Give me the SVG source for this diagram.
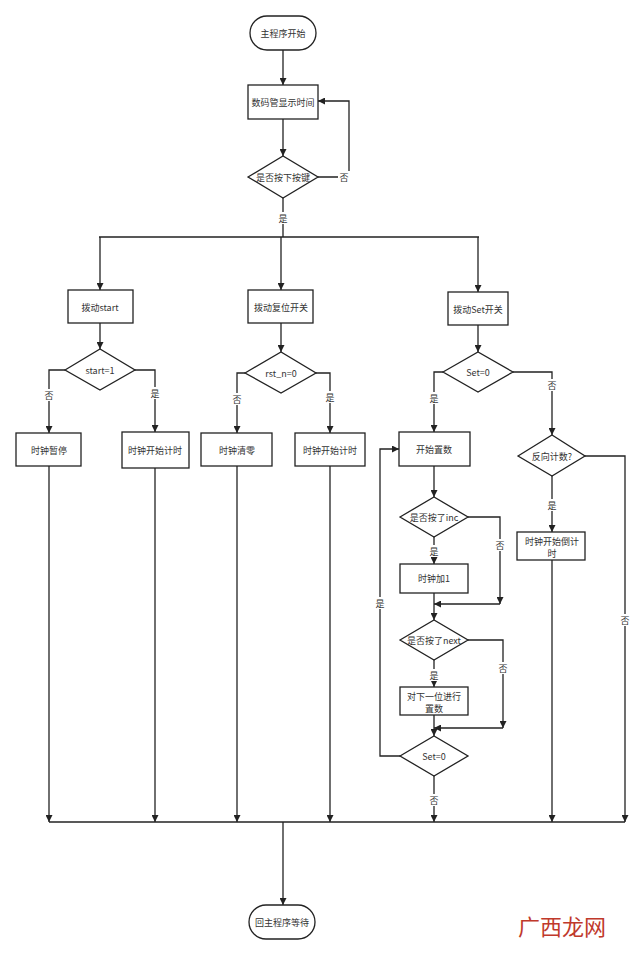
<svg xmlns="http://www.w3.org/2000/svg" width="640" height="954" viewBox="0 0 640 954">
<defs><marker id="a" viewBox="0 0 10 10" refX="10" refY="5" markerWidth="7" markerHeight="7" markerUnits="userSpaceOnUse" orient="auto"><path d="M0,0L10,5L0,10z" fill="#222"/></marker></defs>
<style>
.n{fill:#fff;stroke:#222;stroke-width:1.3}
text{font-family:"Noto Sans CJK SC","Liberation Sans",sans-serif;font-size:9px;fill:#333;text-anchor:middle;dominant-baseline:central}
.c path{fill:none;stroke:#222;stroke-width:1.3}
.c path.m{marker-end:url(#a)}
.l{fill:#fff}
</style>
<rect width="640" height="954" fill="#fff"/>
<g class="c">
<path class="m" d="M283,50V85"/>
<path class="m" d="M283,119V156"/>
<path class="m" d="M318,177H349V101H318"/>
<path d="M283,198V237M99,237H479"/>
<path class="m" d="M100,237V290"/><path class="m" d="M281,237V290"/><path class="m" d="M478,237V292"/>
<path class="m" d="M100,323V349"/><path class="m" d="M281,323V352"/><path class="m" d="M478,325V352"/>
<path class="m" d="M65,370H49V433"/><path class="m" d="M135,370H155V432"/>
<path class="m" d="M245,373H237V433"/><path class="m" d="M316,373H330V433"/>
<path class="m" d="M443,372H434V432"/><path class="m" d="M513,372H552V435"/>
<path class="m" d="M552,476V532"/><path class="m" d="M585,456H625V822"/>
<path class="m" d="M434,466V497"/><path class="m" d="M434,537V564"/>
<path class="m" d="M468,517H500V604"/><path class="m" d="M500,604H434"/>
<path class="m" d="M434,593V620"/><path class="m" d="M434,660V687"/>
<path class="m" d="M468,640H503V728"/><path class="m" d="M503,728H434"/>
<path class="m" d="M434,715V736"/>
<path class="m" d="M400,756H380V449H399"/>
<path class="m" d="M434,776V822"/>
<path class="m" d="M49,466V822"/><path class="m" d="M155,468V822"/><path class="m" d="M237,466V822"/><path class="m" d="M330,466V822"/><path class="m" d="M552,560V822"/>
<path d="M49,822H625"/>
<path class="m" d="M283,822V905"/>
</g>
<g id="start"><rect class="n" x="250" y="16" width="66" height="34" rx="17"/><text x="283" y="33">主程序开始</text></g>
<g id="disp"><rect class="n" x="248" y="85" width="70" height="34"/><text x="283" y="102">数码管显示时间</text></g>
<g id="key"><path class="n" d="M248,177L283,156L318,177L283,198Z"/><text x="283" y="177">是否按下按键</text></g>
<g id="sw1"><rect class="n" x="68" y="290" width="65" height="33"/><text x="100" y="307">拨动start</text></g>
<g id="sw2"><rect class="n" x="248" y="290" width="65" height="33"/><text x="281" y="307">拨动复位开关</text></g>
<g id="sw3"><rect class="n" x="448" y="292" width="60" height="33"/><text x="478" y="309">拨动Set开关</text></g>
<g id="d1"><path class="n" d="M65,370L100,349L135,370L100,390Z"/><text x="100" y="370">start=1</text></g>
<g id="d2"><path class="n" d="M245,373L281,352L316,373L281,393Z"/><text x="281" y="373">rst_n=0</text></g>
<g id="d3"><path class="n" d="M443,372L478,352L513,372L478,392Z"/><text x="478" y="372">Set=0</text></g>
<g id="b1"><rect class="n" x="16" y="433" width="65" height="33"/><text x="49" y="450">时钟暂停</text></g>
<g id="b2"><rect class="n" x="122" y="432" width="67" height="36"/><text x="155" y="450">时钟开始计时</text></g>
<g id="b3"><rect class="n" x="201" y="433" width="71" height="33"/><text x="237" y="450">时钟清零</text></g>
<g id="b4"><rect class="n" x="295" y="433" width="70" height="33"/><text x="330" y="450">时钟开始计时</text></g>
<g id="b5"><rect class="n" x="399" y="432" width="71" height="34"/><text x="434" y="449">开始置数</text></g>
<g id="d4"><path class="n" d="M518,456L552,435L585,456L552,476Z"/><text x="552" y="456">反向计数?</text></g>
<g id="b6"><rect class="n" x="517" y="532" width="68" height="28"/><text x="552" y="541">时钟开始倒计</text><text x="552" y="553">时</text></g>
<g id="d5"><path class="n" d="M400,517L434,497L468,517L434,537Z"/><text x="434" y="517">是否按了inc</text></g>
<g id="b7"><rect class="n" x="400" y="564" width="68" height="29"/><text x="434" y="578">时钟加1</text></g>
<g id="d6"><path class="n" d="M400,640L434,620L468,640L434,660Z"/><text x="434" y="640">是否按了next</text></g>
<g id="b8"><rect class="n" x="400" y="687" width="68" height="28"/><text x="434" y="696">对下一位进行</text><text x="434" y="708">置数</text></g>
<g id="d7"><path class="n" d="M400,756L434,736L468,756L434,776Z"/><text x="434" y="756">Set=0</text></g>
<g id="end"><rect class="n" x="249" y="905" width="66" height="34" rx="17"/><text x="282" y="922">回主程序等待</text></g>
<g id="labels">
<rect class="l" x="338" y="171" width="12" height="12"/><text x="344" y="177">否</text>
<rect class="l" x="277" y="212" width="12" height="12"/><text x="283" y="218">是</text>
<rect class="l" x="43" y="389" width="12" height="12"/><text x="49" y="395">否</text>
<rect class="l" x="149" y="387" width="12" height="12"/><text x="155" y="393">是</text>
<rect class="l" x="231" y="393" width="12" height="12"/><text x="237" y="399">否</text>
<rect class="l" x="324" y="391" width="12" height="12"/><text x="330" y="397">是</text>
<rect class="l" x="428" y="392" width="12" height="12"/><text x="434" y="398">是</text>
<rect class="l" x="546" y="379" width="12" height="12"/><text x="552" y="385">否</text>
<rect class="l" x="546" y="499" width="12" height="12"/><text x="552" y="505">是</text>
<rect class="l" x="619" y="614" width="12" height="12"/><text x="625" y="620">否</text>
<rect class="l" x="428" y="545" width="12" height="12"/><text x="434" y="551">是</text>
<rect class="l" x="494" y="539" width="12" height="12"/><text x="500" y="545">否</text>
<rect class="l" x="428" y="669" width="12" height="12"/><text x="434" y="675">是</text>
<rect class="l" x="497" y="662" width="12" height="12"/><text x="503" y="668">否</text>
<rect class="l" x="374" y="597" width="12" height="12"/><text x="380" y="603">是</text>
<rect class="l" x="428" y="794" width="12" height="12"/><text x="434" y="800">否</text>
</g>
<text x="562" y="925" style="font-size:22px;fill:#c0392b">广西龙网</text>
</svg>
